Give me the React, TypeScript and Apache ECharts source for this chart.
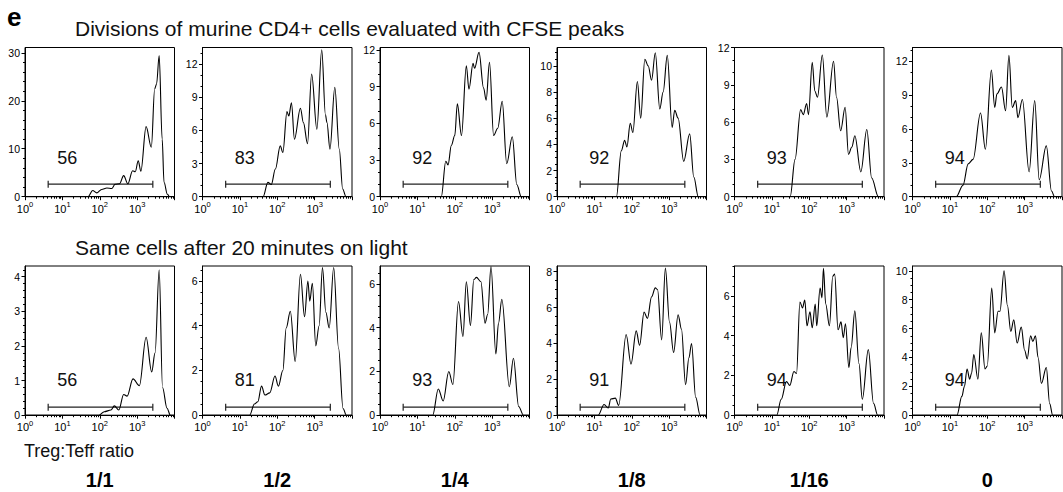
import React, { useEffect, useRef } from 'react';
import * as echarts from 'echarts';

// ---------- data ----------
const ratios = ['1/1', '1/2', '1/4', '1/8', '1/16', '0'];
const row1Title = 'Divisions of murine CD4+ cells evaluated with CFSE peaks';
const row2Title = 'Same cells after 20 minutes on light';
const row1Pct = [56, 83, 92, 92, 93, 94];
const row2Pct = [56, 81, 93, 91, 94, 94];
const row1YMax = [31.1, 13.5, 12.2, 11.4, 12.0, 13.2];
const row1YStep = [10, 3, 3, 2, 3, 3];
const row1YMinor = [2, 1, 1, 0.5, 1, 1];
const row2YMax = [4.31, 6.67, 6.82, 8.32, 7.51, 10.33];
const row2YStep = [1, 2, 2, 2, 2, 2];
const row2YMinor = [0.2, 0.5, 0.5, 0.5, 0.5, 0.5];
const gateRange = [0.62, 3.42]; // log10 units
const xDecades = [0, 1, 2, 3];

// x in log10(fluorescence), y = cell count
const r1c1 = [[0,0],[1.69,0],[1.81,1.3],[1.92,0.8],[2.05,1.5],[2.19,1.8],[2.32,1.7],[2.41,2.6],[2.53,2.7],[2.64,4.4],[2.75,2.7],[2.88,5.4],[2.95,5.2],[3.03,7.5],[3.10,5.3],[3.24,14.6],[3.38,10.3],[3.47,22.5],[3.52,23.5],[3.59,29.4],[3.67,12],[3.72,3],[3.81,0.5],[3.87,0],[4,0]];
const r1c2 = [[0,0],[1.62,0],[1.75,1.3],[1.84,1.1],[1.95,2.5],[2.08,4.6],[2.15,4.0],[2.26,7.7],[2.31,7.3],[2.38,8.5],[2.46,5.2],[2.62,8.0],[2.70,6.7],[2.81,4.8],[2.92,11.1],[3.06,6.1],[3.19,13.3],[3.29,7.4],[3.33,6.7],[3.41,4.3],[3.54,9.9],[3.66,4.3],[3.75,0.7],[3.84,0],[4,0]];
const r1c3 = [[0,0],[1.64,0],[1.76,2.9],[1.82,2.6],[1.91,4.2],[2.0,5.0],[2.07,7.6],[2.18,5.0],[2.31,10.7],[2.38,8.8],[2.49,10.9],[2.53,10.5],[2.65,11.8],[2.77,8.9],[2.84,7.9],[2.93,11.0],[3.04,5.0],[3.15,5.6],[3.27,7.8],[3.39,2.7],[3.54,4.9],[3.66,1.0],[3.78,0],[4,0]];
const r1c4 = [[0,0],[1.59,0],[1.72,3.5],[1.81,4.3],[1.87,3.8],[1.96,5.6],[2.03,4.9],[2.15,8.8],[2.24,6.0],[2.35,10.5],[2.44,10.0],[2.53,8.9],[2.63,11.0],[2.75,6.7],[2.84,8.0],[2.95,10.8],[3.08,5.3],[3.15,6.6],[3.24,6.0],[3.39,2.7],[3.55,4.8],[3.66,1.5],[3.78,0],[4,0]];
const r1c5 = [[0,0],[1.49,0],[1.62,3.0],[1.77,7.0],[1.84,6.6],[1.93,7.5],[1.98,6.6],[2.08,10.8],[2.15,8.5],[2.22,8.0],[2.35,11.4],[2.47,6.4],[2.65,10.9],[2.73,8.0],[2.84,5.3],[2.96,7.2],[3.05,3.4],[3.14,4.0],[3.22,4.9],[3.38,2.0],[3.54,5.4],[3.67,1.5],[3.85,0],[4,0]];
const r1c6 = [[0,0],[1.17,0],[1.35,1.0],[1.49,2.9],[1.62,3.3],[1.82,7.4],[1.95,4.2],[2.11,11.2],[2.20,7.9],[2.26,9.1],[2.38,9.7],[2.49,7.6],[2.58,12.5],[2.67,7.9],[2.76,8.5],[2.82,7.0],[2.94,8.6],[3.12,2.2],[3.27,8.5],[3.39,1.5],[3.58,4.5],[3.72,0.5],[3.80,0],[4,0]];
const r2c1 = [[0,0],[1.98,0],[2.12,0.1],[2.30,0.15],[2.39,0.27],[2.51,0.15],[2.64,0.6],[2.73,0.55],[2.89,1.05],[3.06,0.85],[3.24,2.25],[3.39,1.25],[3.48,1.8],[3.59,4.2],[3.68,0.8],[3.80,0.2],[3.89,0],[4,0]];
const r2c2 = [[0,0],[1.26,0],[1.39,0.5],[1.48,0.6],[1.58,1.3],[1.67,0.9],[1.80,1.0],[1.94,1.75],[2.03,1.3],[2.15,2.0],[2.24,3.9],[2.35,4.65],[2.48,2.4],[2.62,6.3],[2.73,4.4],[2.82,6.0],[2.87,5.1],[2.94,5.9],[3.03,3.1],[3.12,4.0],[3.21,6.6],[3.30,4.6],[3.39,3.9],[3.51,6.6],[3.64,3.0],[3.76,0.3],[3.85,0],[4,0]];
const r2c3 = [[0,0],[1.41,0],[1.56,1.2],[1.69,0.65],[1.84,2.0],[1.95,1.4],[2.10,5.2],[2.22,3.6],[2.31,6.1],[2.42,4.1],[2.51,6.2],[2.58,6.3],[2.70,6.1],[2.81,4.2],[2.88,4.6],[2.97,6.8],[3.10,2.8],[3.17,4.2],[3.26,5.3],[3.46,1.3],[3.57,2.6],[3.71,0.4],[3.84,0],[4,0]];
const r2c4 = [[0,0],[1.10,0],[1.26,0.6],[1.37,0.4],[1.44,0.9],[1.56,0.95],[1.65,0.55],[1.85,4.5],[1.98,2.85],[2.12,4.7],[2.21,3.9],[2.33,5.75],[2.42,5.4],[2.53,6.6],[2.63,7.1],[2.69,7.0],[2.80,4.2],[2.90,8.2],[3.01,5.2],[3.12,3.5],[3.24,5.6],[3.33,4.8],[3.44,1.7],[3.53,3.2],[3.60,4.0],[3.71,1.0],[3.83,0],[4,0]];
const r2c5 = [[0,0],[1.13,0],[1.25,0.8],[1.39,1.7],[1.48,1.5],[1.59,2.2],[1.66,2.1],[1.75,5.7],[1.82,5.4],[1.88,5.8],[1.94,4.5],[2.02,5.2],[2.08,4.4],[2.16,5.6],[2.20,4.5],[2.29,6.4],[2.34,5.9],[2.38,7.4],[2.44,5.6],[2.54,4.5],[2.63,7.0],[2.68,7.1],[2.77,4.3],[2.85,4.7],[2.91,3.9],[2.97,4.6],[3.06,2.4],[3.12,3.4],[3.22,5.25],[3.33,2.6],[3.42,0.8],[3.58,3.3],[3.72,0.6],[3.83,0],[4,0]];
const r2c6 = [[0,0],[1.19,0],[1.32,1.3],[1.39,2.0],[1.46,3.2],[1.53,2.5],[1.58,2.9],[1.64,4.2],[1.75,2.5],[1.84,5.7],[1.94,3.2],[2.00,3.4],[2.12,8.8],[2.20,5.7],[2.29,7.2],[2.34,7.2],[2.45,10.0],[2.54,7.6],[2.63,5.8],[2.71,6.6],[2.80,5.0],[2.91,6.1],[3.00,4.5],[3.07,3.9],[3.16,5.5],[3.22,5.1],[3.29,5.5],[3.36,4.0],[3.45,2.2],[3.58,3.3],[3.67,0.8],[3.75,0],[4,0]];

const row1Curves = [r1c1, r1c2, r1c3, r1c4, r1c5, r1c6];
const row2Curves = [r2c1, r2c2, r2c3, r2c4, r2c5, r2c6];

// ---------- layout ----------
const FONT = '"Liberation Sans", Arial, Helvetica, sans-serif';
const LEFTS = [25, 202.5, 380, 557, 734.5, 912.5];
const PW = 149.5;
const TOPS = [47.5, 266];
const PH = 149.2;
const BAR_OFF = [12.5, 8];
const LAB_OFF = [39, 35];
const LABEL_X = 1.13;

function ticksFrom(max: number, step: number) {
  const out: number[] = [];
  for (let v = 0; v <= max + 1e-9; v += step) out.push(Math.round(v * 1000) / 1000);
  return out;
}
function minorFrom(max: number, step: number, major: number) {
  const out: number[] = [];
  for (let v = step; v <= max + 1e-9; v += step) {
    const r = v / major;
    if (Math.abs(r - Math.round(r)) > 1e-6) out.push(Math.round(v * 1000) / 1000);
  }
  return out;
}
const xMinor: number[] = [];
for (let n = 0; n < 4; n++) for (let k = 2; k <= 9; k++) xMinor.push(n + Math.log10(k));

function buildOption() {
  const grid: any[] = [];
  const xAxis: any[] = [];
  const yAxis: any[] = [];
  const series: any[] = [];
  const rows = [
    { curves: row1Curves, pct: row1Pct, ymax: row1YMax, ystep: row1YStep, yminor: row1YMinor },
    { curves: row2Curves, pct: row2Pct, ymax: row2YMax, ystep: row2YStep, yminor: row2YMinor },
  ];
  rows.forEach((row, r) => {
    row.curves.forEach((curve, c) => {
      const gi = grid.length;
      grid.push({
        left: LEFTS[c], top: TOPS[r], width: PW, height: PH,
        show: true, borderColor: '#000', borderWidth: 1, backgroundColor: 'transparent',
        containLabel: false, outerBoundsMode: 'none',
      });
      const xi = xAxis.length;
      xAxis.push({
        type: 'value', gridIndex: gi, min: 0, max: 4, position: 'bottom',
        axisLine: { show: true, onZero: false, lineStyle: { color: '#000', width: 1 } },
        axisTick: { show: true, length: 3.5, customValues: [0, 1, 2, 3, 4], lineStyle: { color: '#000', width: 1 } },
        axisLabel: {
          show: true, customValues: xDecades, margin: 4,
          formatter: (v: number) => `{b|10}{s|${Math.round(v)}}`,
          rich: {
            b: { fontSize: 11, lineHeight: 16, fontFamily: FONT, color: '#000', verticalAlign: 'middle' },
            s: { fontSize: 7.5, lineHeight: 8, fontFamily: FONT, color: '#000', verticalAlign: 'top' },
          },
        },
        splitLine: { show: false },
      });
      xAxis.push({
        type: 'value', gridIndex: gi, min: 0, max: 4, position: 'bottom',
        axisLine: { show: false },
        axisTick: { show: true, length: 2, customValues: xMinor, lineStyle: { color: '#000', width: 1 } },
        axisLabel: { show: false },
        splitLine: { show: false },
      });
      const yi = yAxis.length;
      const majors = ticksFrom(row.ymax[c], row.ystep[c]);
      yAxis.push({
        type: 'value', gridIndex: gi, min: 0, max: row.ymax[c], position: 'left',
        axisLine: { show: true, onZero: false, lineStyle: { color: '#000', width: 1 } },
        axisTick: { show: true, length: 3.5, customValues: majors, lineStyle: { color: '#000', width: 1 } },
        axisLabel: { show: true, customValues: majors, margin: 5, fontSize: 10.5, fontFamily: FONT, color: '#000' },
        splitLine: { show: false },
      });
      yAxis.push({
        type: 'value', gridIndex: gi, min: 0, max: row.ymax[c], position: 'left',
        axisLine: { show: false },
        axisTick: { show: true, length: 2, customValues: minorFrom(row.ymax[c], row.yminor[c], row.ystep[c]), lineStyle: { color: '#000', width: 1 } },
        axisLabel: { show: false },
        splitLine: { show: false },
      });
      series.push({
        type: 'line', xAxisIndex: xi, yAxisIndex: yi, data: curve,
        smooth: 0.35, smoothMonotone: 'x', showSymbol: false, symbol: 'none',
        lineStyle: { color: '#000', width: 1.1 }, silent: true, clip: true,
      });
      const barOff = BAR_OFF[r];
      const labOff = LAB_OFF[r];
      series.push({
        type: 'custom', xAxisIndex: xi, yAxisIndex: yi, silent: true,
        data: [[gateRange[0], gateRange[1], row.pct[c]]],
        renderItem: (_p: any, api: any) => {
          const a = api.coord([api.value(0), 0]);
          const b = api.coord([api.value(1), 0]);
          const lp = api.coord([LABEL_X, 0]);
          const yb = a[1] - barOff;
          const st = { stroke: '#222', lineWidth: 1.2 };
          return {
            type: 'group',
            children: [
              { type: 'line', shape: { x1: a[0], y1: yb, x2: b[0], y2: yb }, style: st },
              { type: 'line', shape: { x1: a[0], y1: yb - 3.5, x2: a[0], y2: yb + 3.5 }, style: st },
              { type: 'line', shape: { x1: b[0], y1: yb - 3.5, x2: b[0], y2: yb + 3.5 }, style: st },
              {
                type: 'text', x: lp[0], y: a[1] - labOff,
                style: { text: String(api.value(2)), fill: '#111', fontSize: 18, fontFamily: FONT, align: 'center', verticalAlign: 'middle' },
              },
            ],
          };
        },
      });
    });
  });

  const graphic: any[] = [
    { type: 'text', left: 7, top: 4, style: { text: 'e', fontSize: 26, fontWeight: 'bold', fontFamily: FONT, fill: '#000' } },
    { type: 'text', x: 75, y: 28.5, style: { text: row1Title, fontSize: 21, fontFamily: FONT, fill: '#111', verticalAlign: 'middle' } },
    { type: 'text', x: 75, y: 247, style: { text: row2Title, fontSize: 21, fontFamily: FONT, fill: '#111', verticalAlign: 'middle' } },
    { type: 'text', x: 24, y: 451, style: { text: 'Treg:Teff ratio', fontSize: 18, fontFamily: FONT, fill: '#111', verticalAlign: 'middle' } },
  ];
  ratios.forEach((t, c) => {
    graphic.push({
      type: 'text', x: LEFTS[c] + PW / 2, y: 480,
      style: { text: t, fontSize: 20, fontWeight: 'bold', fontFamily: FONT, fill: '#000', align: 'center', verticalAlign: 'middle' },
    });
  });

  return { animation: false, backgroundColor: '#fff', grid, xAxis, yAxis, series, graphic };
}

export default function App() {
  const ref = useRef<HTMLDivElement>(null);
  useEffect(() => {
    if (!ref.current) return;
    const chart = echarts.init(ref.current, null, { renderer: 'svg' });
    chart.setOption(buildOption() as any);
    return () => chart.dispose();
  }, []);
  return <div ref={ref} style={{ position: 'fixed', left: 0, top: 0, width: 1063, height: 492, background: '#fff' }} />;
}
